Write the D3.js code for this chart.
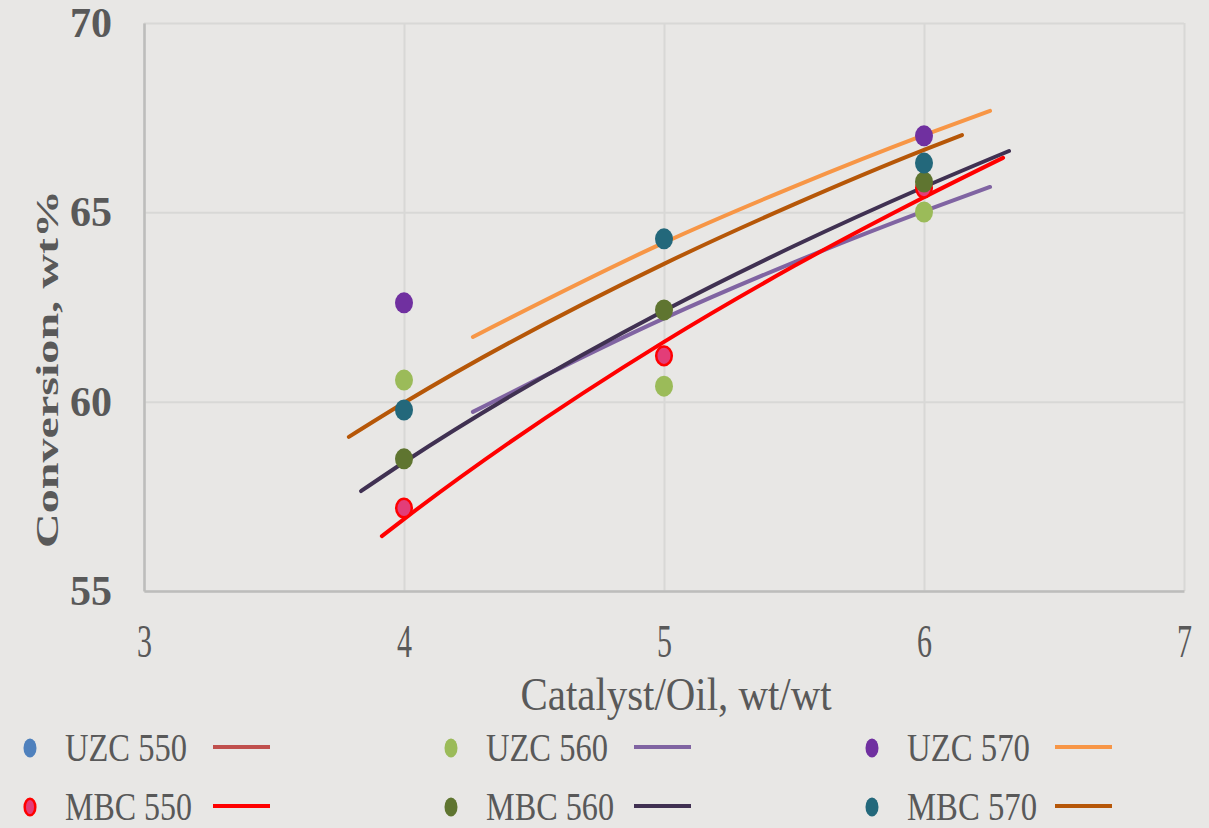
<!DOCTYPE html>
<html>
<head>
<meta charset="utf-8">
<script src="https://cdn.jsdelivr.net/npm/d3@7"></script>
<style>
    html, body { margin: 0; padding: 0; background: #E8E7E5; }
    svg { display: block; }
</style>
</head>
<body>
<svg id="chart" width="1209" height="828"></svg>
<script>
// ejes
const xTicks = [3, 4, 5, 6, 7];
const yTicks = [55, 60, 65, 70];

// puntos medidos (catalizador/aceite, conversion)
const uzc550Pts = [];
const uzc560Pts = [[4, 60.57], [5, 60.41], [6, 65.01]];
const uzc570Pts = [[4, 62.61], [6, 67.02]];
const mbc550Pts = [[4, 57.19], [5, 61.21], [6, 65.64]];
const mbc560Pts = [[4, 58.49], [5, 62.42], [6, 65.80]];
const mbc570Pts = [[4, 59.78], [5, 64.30], [6, 66.30]];

// lineas de tendencia
const uzc550Fit = [];
const uzc560Fit = [[4.265, 59.73], [5, 62.2], [5.5, 63.68], [6, 65.03], [6.254, 65.67]];
const uzc570Fit = [[4.265, 61.71], [5, 64.2], [5.5, 65.68], [6, 67.04], [6.254, 67.68]];
const mbc550Fit = [[3.915, 56.45], [4, 56.9], [5, 61.58], [5.5, 63.58], [6, 65.4], [6.304, 66.44]];
const mbc560Fit = [[3.835, 57.64], [4, 58.4], [5, 62.4], [5.5, 64.11], [6, 65.67], [6.327, 66.62]];
const mbc570Fit = [[3.788, 59.07], [4, 59.97], [5, 63.64], [5.5, 65.21], [6, 66.65], [6.146, 67.04]];

const seriesNames = ["UZC 550", "UZC 560", "UZC 570", "MBC 550", "MBC 560", "MBC 570"];
const markerColors = ["#4F81BD", "#9BBB59", "#7030A0", "#E33D78", "#5F7530", "#23687B"];
const lineColors = ["#C0504D", "#8064A2", "#F79646", "#FF0000", "#403152", "#B65708"];
const pointSets = [uzc550Pts, uzc560Pts, uzc570Pts, mbc550Pts, mbc560Pts, mbc570Pts];
const fitSets = [uzc550Fit, uzc560Fit, uzc570Fit, mbc550Fit, mbc560Fit, mbc570Fit];

const textColor = "#595959";
const font = "'Liberation Serif', 'DejaVu Serif', serif";

let svg = d3.select("#chart");
let plot = {left: 144, right: 1184, top: 23, bottom: 591};

let x = d3.scaleLinear().domain([3, 7]).range([plot.left, plot.right]);
let y = d3.scaleLinear().domain([55, 70]).range([plot.bottom, plot.top]);

// rejilla horizontal
svg.append("g")
    .attr("transform", "translate(" + plot.left + ",0)")
    .call(d3.axisLeft(y).tickValues(yTicks).tickSize(-(plot.right - plot.left)).tickFormat(""))
    .call(g => g.select(".domain").remove())
    .call(g => g.selectAll("line").attr("stroke", "#D8D8D6").attr("stroke-width", 2));

// rejilla vertical
svg.append("g")
    .attr("transform", "translate(0," + plot.bottom + ")")
    .call(d3.axisBottom(x).tickValues(xTicks).tickSize(-(plot.bottom - plot.top)).tickFormat(""))
    .call(g => g.select(".domain").remove())
    .call(g => g.selectAll("line").attr("stroke", "#D8D8D6").attr("stroke-width", 2));

// eje y
let yAxis = svg.append("g")
    .attr("transform", "translate(" + plot.left + ",0)")
    .call(d3.axisLeft(y).tickValues(yTicks).tickFormat(d3.format("d")).tickSize(0).tickPadding(32));
yAxis.select(".domain").attr("stroke", "#BDBDBB").attr("stroke-width", 2.5);
yAxis.selectAll("text")
    .attr("fill", textColor)
    .attr("font-family", font)
    .attr("font-weight", "bold")
    .attr("font-size", 42);

// eje x
let xAxis = svg.append("g")
    .attr("transform", "translate(0," + plot.bottom + ")")
    .call(d3.axisBottom(x).tickValues(xTicks).tickFormat(d3.format("d")).tickSize(0).tickPadding(33));
xAxis.select(".domain").attr("stroke", "#BDBDBB").attr("stroke-width", 2.5);
xAxis.selectAll("text")
    .attr("fill", textColor)
    .attr("font-family", font)
    .attr("font-size", 46)
    .attr("textLength", 15)
    .attr("lengthAdjust", "spacingAndGlyphs");

// titulos
svg.append("text")
    .attr("x", 676)
    .attr("y", 710)
    .attr("text-anchor", "middle")
    .attr("fill", textColor)
    .attr("font-family", font)
    .attr("font-size", 46)
    .attr("textLength", 311)
    .attr("lengthAdjust", "spacingAndGlyphs")
    .text("Catalyst/Oil, wt/wt");

svg.append("text")
    .attr("transform", "translate(58,369) rotate(-90)")
    .attr("text-anchor", "middle")
    .attr("fill", textColor)
    .attr("font-family", font)
    .attr("font-weight", "bold")
    .attr("font-size", 32)
    .attr("textLength", 358)
    .attr("lengthAdjust", "spacingAndGlyphs")
    .text("Conversion, wt%");

// lineas de tendencia
let line = d3.line()
    .x(d => x(d[0]))
    .y(d => y(d[1]))
    .curve(d3.curveMonotoneX);

let order = [1, 2, 5, 4, 3, 0];
order.forEach(i => {
    if (fitSets[i].length === 0) return;
    svg.append("path")
        .datum(fitSets[i])
        .attr("d", line)
        .attr("fill", "none")
        .attr("stroke", lineColors[i])
        .attr("stroke-width", 4)
        .attr("stroke-linecap", "round");
});

// marcadores
function drawMarker(g, cx, cy, i, rx, ry) {
    let e = g.append("ellipse")
        .attr("cx", cx)
        .attr("cy", cy)
        .attr("rx", rx)
        .attr("ry", ry)
        .attr("fill", markerColors[i]);
    if (seriesNames[i] === "MBC 550") {
        e.attr("stroke", "#FF0000").attr("stroke-width", 2.5)
            .attr("rx", rx - 1.2).attr("ry", ry - 1.2);
    }
    return e;
}

let pts = svg.append("g");
[0, 3, 1, 4, 5, 2].forEach(i => {
    pointSets[i].forEach(p => drawMarker(pts, x(p[0]), y(p[1]), i, 9, 10.5));
});

// leyenda
let legendCols = [30, 451, 872];
let legendRows = [748, 807];
let legendWidths = [122, 122, 123, 127, 128, 130];
let legend = svg.append("g");
seriesNames.forEach((name, i) => {
    let cx = legendCols[i % 3];
    let cy = legendRows[Math.floor(i / 3)];
    drawMarker(legend, cx, cy, i, 6.5, 9.5);
    legend.append("text")
        .attr("x", cx + 35)
        .attr("y", cy)
        .attr("dy", "0.33em")
        .attr("fill", textColor)
        .attr("font-family", font)
        .attr("font-size", 39)
        .attr("textLength", legendWidths[i])
        .attr("lengthAdjust", "spacingAndGlyphs")
        .text(name);
    legend.append("line")
        .attr("x1", cx + 183)
        .attr("x2", cx + 240)
        .attr("y1", cy - 1)
        .attr("y2", cy - 1)
        .attr("stroke", lineColors[i])
        .attr("stroke-width", 4);
});
</script>
</body>
</html>
